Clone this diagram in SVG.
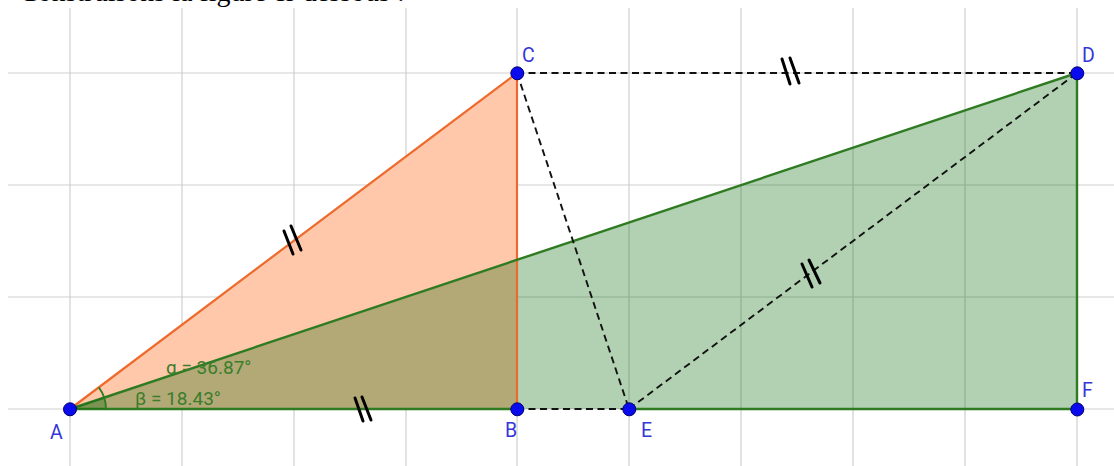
<svg xmlns="http://www.w3.org/2000/svg" width="1114" height="466" viewBox="0 0 1114 466">
<style>
.grid{stroke:#cfcfcf;stroke-width:1.2;fill:none}
.or{stroke:#ee6a2c;stroke-width:2.2;fill:none}
.gr{stroke:#2f7b22;stroke-width:2.4;fill:none}
.dash{stroke:#111;stroke-width:1.9;stroke-dasharray:7 4.5;fill:none}
.tick{stroke:#000;stroke-width:3;stroke-linecap:round}
.pt{fill:#0a0aee;stroke:#00006a;stroke-width:1}
.lbl{font-family:Roboto,"Liberation Sans",sans-serif;font-size:19.5px;fill:#3636d8}
.ang{font-family:Roboto,"Liberation Sans",sans-serif;font-size:19px;fill:#3a7d2a}
</style>
<rect width="1114" height="466" fill="#ffffff"/>
<text x="19" y="1" font-family="'Liberation Serif',serif" font-size="28" fill="#000">Construisons la figure ci-dessous :</text>
<g id="grid">
<path class="grid" d="M70,8V466M182,8V466M294,8V466M406,8V466M517,8V466M629,8V466M741,8V466M853,8V466M965,8V466M1077,8V466M8,73H1114M8,185H1114M8,297H1114M8,409H1114"/>
</g>
<g id="triangle-ABC">
<polygon points="70,409 517,73 517,409" fill="#ffc8ab"/>
</g>
<g id="triangle-AFD">
<polygon points="70,409 1077,73 1077,409" fill="#006400" fill-opacity="0.3"/>
</g>
<g id="connectors">
<line class="or" x1="70" y1="409" x2="517" y2="73"/>
<line class="or" x1="517" y1="73" x2="517" y2="409"/>
<line class="gr" x1="70" y1="409" x2="517" y2="409"/>
<line class="gr" x1="629" y1="409" x2="1077" y2="409"/>
<line class="gr" x1="1077" y1="409" x2="1077" y2="73"/>
<line class="gr" x1="70" y1="409" x2="1077" y2="73"/>
<line class="dash" x1="517" y1="73" x2="1077" y2="73"/>
<line class="dash" x1="517" y1="73" x2="629" y2="409"/>
<line class="dash" x1="629" y1="409" x2="1077" y2="73"/>
<line class="dash" x1="517" y1="409" x2="629" y2="409"/>
<g id="ticks">
<line class="tick" x1="284" y1="231" x2="293" y2="254"/>
<line class="tick" x1="291" y1="226" x2="301" y2="250"/>
<line class="tick" x1="782" y1="59" x2="790" y2="84"/>
<line class="tick" x1="790" y1="58" x2="799" y2="83"/>
<line class="tick" x1="802" y1="264" x2="812" y2="287"/>
<line class="tick" x1="809" y1="260" x2="820" y2="283"/>
<line class="tick" x1="355" y1="398" x2="363" y2="421"/>
<line class="tick" x1="362" y1="397" x2="371" y2="420"/>
</g>
</g>
<g id="angles">
<path d="M70,409 L106,409 A36,36 0 0,0 104.15,397.62 Z" fill="#006400" fill-opacity="0.3"/>
<path d="M106,409 A36,36 0 0,0 98.8,387.4" stroke="#2f7b22" stroke-width="1.8" fill="none"/>
<text class="ang" x="166" y="374">α = 36.87°</text>
<text class="ang" x="135" y="405">β = 18.43°</text>
</g>
<g id="A"><circle class="pt" cx="70" cy="409.3" r="6.5"/><text class="lbl" x="50" y="439">A</text></g>
<g id="B"><circle class="pt" cx="517.3" cy="409.3" r="6.5"/><text class="lbl" x="505" y="437">B</text></g>
<g id="C"><circle class="pt" cx="517.3" cy="73.3" r="6.5"/><text class="lbl" x="522" y="62">C</text></g>
<g id="D"><circle class="pt" cx="1077.3" cy="73.3" r="6.5"/><text class="lbl" x="1082" y="62">D</text></g>
<g id="E"><circle class="pt" cx="629.3" cy="409.3" r="6.5"/><text class="lbl" x="641" y="437">E</text></g>
<g id="F"><circle class="pt" cx="1077.3" cy="409.5" r="6.5"/><text class="lbl" x="1082" y="397">F</text></g>
</svg>
